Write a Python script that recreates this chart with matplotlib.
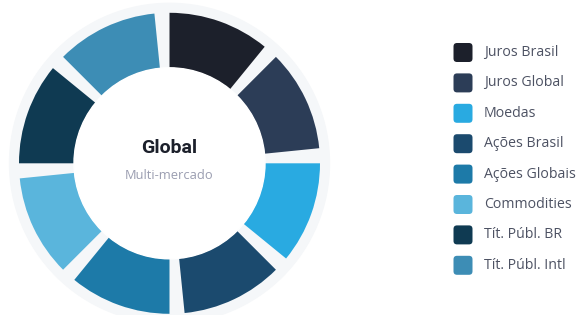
import matplotlib.pyplot as plt
from matplotlib.patches import Circle, FancyBboxPatch

# data
labels = ["Juros Brasil", "Juros Global", "Moedas", "Ações Brasil",
          "Ações Globais", "Commodities", "Tít. Públ. BR", "Tít. Públ. Intl"]
values = [12.5, 12.5, 12.5, 12.5, 12.5, 12.5, 12.5, 12.5]
colors = ["#1c202b", "#2c3d57", "#29aae1", "#1b4a6e",
          "#1d7aa8", "#5ab5dc", "#0f3a52", "#3d8db5"]
center_title = "Global"
center_sub = "Multi-mercado"

pad = 1.6  # share of each slot left as a gap

fig = plt.figure(figsize=(5.79, 3.15), dpi=100)
ax = fig.add_axes([0, 0, 1, 1])

cx, cy = 169.5, 315 - 163.3
ax.add_patch(Circle((cx, cy), 160, color="#f5f7f9", zorder=0))

# slices interleaved with transparent gaps
vals, cols = [], []
for v, c in zip(values, colors):
    vals += [v - pad, pad]
    cols += [c, "none"]
ax.pie(vals, colors=cols, startangle=90, counterclock=False,
       center=(cx, cy), radius=150.5, frame=True,
       wedgeprops=dict(width=55, linewidth=0))
ax.add_patch(Circle((cx, cy), 95.5, color="white", zorder=3))

ax.text(cx, 315 - 148, center_title, ha="center", va="center",
        fontsize=14, fontweight="bold", family="Roboto",
        color="#1c202b", zorder=4)
ax.text(cx, 315 - 175.5, center_sub, ha="center", va="center",
        fontsize=9.3, family="Open Sans", color="#9a9db0", zorder=4)

# legend
y0, dy = 52.5, 30.4
for i, (lab, c) in enumerate(zip(labels, colors)):
    y = 315 - (y0 + i * dy)
    ax.add_patch(FancyBboxPatch((453.5, y - 9.5), 19, 19,
                                boxstyle="round,pad=0,rounding_size=3.5",
                                color=c, linewidth=0))
    ax.text(484, y, lab, ha="left", va="center", fontsize=10.2,
            family="Open Sans", color="#4d5263")

ax.set_xlim(0, 579)
ax.set_ylim(0, 315)
ax.set_aspect("equal")
ax.axis("off")

fig.savefig("out.png", dpi=100)
